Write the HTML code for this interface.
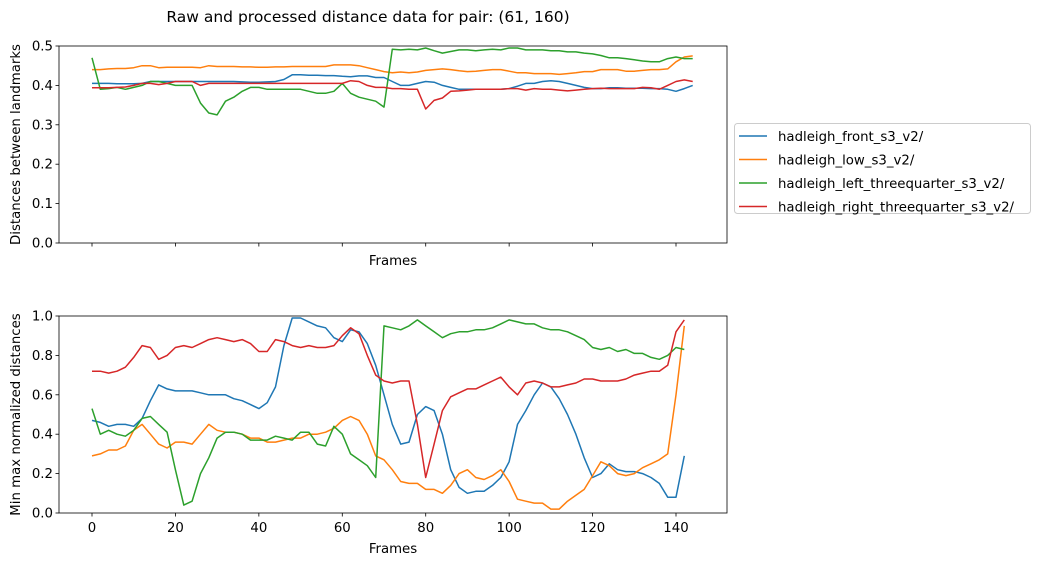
<!DOCTYPE html>
<html><head><meta charset="utf-8"><style>
body{margin:0;background:#fff;width:1040px;height:566px;overflow:hidden;font-family:"Liberation Sans","DejaVu Sans",sans-serif}
svg text{font-family:"DejaVu Sans","Liberation Sans",sans-serif;font-size:13.3px;fill:#000}
</style></head><body>
<svg id="chart" width="1040" height="566"></svg>
<script>
const topFront=[0.405,0.405,0.405,0.404,0.404,0.404,0.405,0.41,0.41,0.41,0.41,0.41,0.41,0.41,0.41,0.41,0.41,0.41,0.409,0.408,0.408,0.409,0.41,0.415,0.427,0.427,0.426,0.426,0.425,0.425,0.423,0.422,0.424,0.424,0.42,0.42,0.41,0.40,0.40,0.405,0.41,0.408,0.40,0.395,0.39,0.39,0.39,0.39,0.39,0.39,0.392,0.398,0.405,0.405,0.41,0.412,0.41,0.405,0.40,0.395,0.392,0.392,0.394,0.394,0.393,0.393,0.393,0.392,0.392,0.39,0.385,0.392,0.40];
const topLow=[0.44,0.44,0.442,0.443,0.443,0.445,0.45,0.45,0.445,0.446,0.446,0.446,0.446,0.445,0.45,0.448,0.448,0.448,0.447,0.447,0.446,0.446,0.447,0.447,0.448,0.448,0.448,0.448,0.448,0.452,0.452,0.452,0.45,0.445,0.44,0.435,0.432,0.434,0.432,0.434,0.438,0.44,0.442,0.44,0.437,0.435,0.436,0.438,0.44,0.44,0.436,0.432,0.432,0.43,0.43,0.43,0.428,0.43,0.432,0.435,0.435,0.44,0.44,0.44,0.436,0.436,0.438,0.44,0.44,0.442,0.46,0.472,0.475];
const topLeft=[0.47,0.39,0.392,0.395,0.39,0.395,0.40,0.41,0.41,0.405,0.40,0.40,0.40,0.355,0.33,0.325,0.36,0.37,0.385,0.395,0.395,0.39,0.39,0.39,0.39,0.39,0.385,0.38,0.38,0.385,0.405,0.38,0.37,0.365,0.36,0.345,0.492,0.49,0.492,0.49,0.495,0.488,0.482,0.486,0.49,0.49,0.488,0.49,0.492,0.49,0.495,0.495,0.49,0.49,0.49,0.488,0.488,0.485,0.485,0.482,0.48,0.476,0.47,0.47,0.468,0.465,0.462,0.46,0.46,0.468,0.472,0.468,0.468];
const topRight=[0.394,0.394,0.394,0.395,0.396,0.40,0.405,0.405,0.402,0.405,0.41,0.41,0.41,0.40,0.405,0.405,0.405,0.405,0.405,0.405,0.405,0.405,0.405,0.405,0.405,0.405,0.405,0.405,0.405,0.405,0.405,0.412,0.41,0.40,0.395,0.395,0.392,0.392,0.39,0.39,0.34,0.362,0.368,0.385,0.386,0.388,0.39,0.39,0.39,0.39,0.392,0.392,0.388,0.392,0.39,0.39,0.388,0.386,0.388,0.39,0.392,0.393,0.392,0.392,0.392,0.392,0.395,0.394,0.39,0.40,0.41,0.414,0.41];
const botFront=[0.47,0.46,0.44,0.45,0.45,0.44,0.48,0.57,0.65,0.63,0.62,0.62,0.62,0.61,0.60,0.60,0.60,0.58,0.57,0.55,0.53,0.56,0.64,0.85,0.99,0.99,0.97,0.95,0.94,0.89,0.87,0.93,0.92,0.86,0.75,0.60,0.45,0.35,0.36,0.50,0.54,0.52,0.40,0.22,0.13,0.10,0.11,0.11,0.14,0.18,0.26,0.45,0.52,0.60,0.66,0.64,0.58,0.50,0.40,0.28,0.18,0.20,0.25,0.22,0.21,0.21,0.20,0.18,0.15,0.08,0.08,0.29];
const botLow=[0.29,0.30,0.32,0.32,0.34,0.42,0.45,0.40,0.35,0.33,0.36,0.36,0.35,0.40,0.45,0.42,0.41,0.41,0.40,0.38,0.38,0.36,0.36,0.37,0.38,0.38,0.40,0.40,0.41,0.43,0.47,0.49,0.47,0.40,0.29,0.27,0.22,0.16,0.15,0.15,0.12,0.12,0.10,0.14,0.20,0.22,0.18,0.17,0.19,0.22,0.16,0.07,0.06,0.05,0.05,0.02,0.02,0.06,0.09,0.12,0.19,0.26,0.24,0.20,0.19,0.20,0.23,0.25,0.27,0.30,0.60,0.95];
const botLeft=[0.53,0.40,0.42,0.40,0.39,0.42,0.48,0.49,0.45,0.41,0.22,0.04,0.06,0.20,0.28,0.38,0.41,0.41,0.40,0.37,0.37,0.37,0.39,0.38,0.37,0.41,0.41,0.35,0.34,0.44,0.40,0.30,0.27,0.24,0.18,0.95,0.94,0.93,0.95,0.98,0.95,0.92,0.89,0.91,0.92,0.92,0.93,0.93,0.94,0.96,0.98,0.97,0.96,0.96,0.94,0.93,0.93,0.92,0.90,0.88,0.84,0.83,0.84,0.82,0.83,0.81,0.81,0.79,0.78,0.80,0.84,0.83];
const botRight=[0.72,0.72,0.71,0.72,0.74,0.79,0.85,0.84,0.78,0.80,0.84,0.85,0.84,0.86,0.88,0.89,0.88,0.87,0.88,0.86,0.82,0.82,0.88,0.87,0.85,0.84,0.85,0.84,0.84,0.85,0.90,0.94,0.91,0.80,0.70,0.67,0.66,0.67,0.67,0.45,0.18,0.35,0.52,0.59,0.61,0.63,0.63,0.65,0.67,0.69,0.64,0.60,0.66,0.67,0.66,0.64,0.64,0.65,0.66,0.68,0.68,0.67,0.67,0.67,0.68,0.70,0.71,0.72,0.72,0.75,0.92,0.98];
const seriesNames=["hadleigh_front_s3_v2/","hadleigh_low_s3_v2/","hadleigh_left_threequarter_s3_v2/","hadleigh_right_threequarter_s3_v2/"];
const colors=["#1f77b4","#ff7f0e","#2ca02c","#d62728"];
const xTicks=[0,20,40,60,80,100,120,140];
const topYTicks=[0,0.1,0.2,0.3,0.4,0.5];
const botYTicks=[0,0.2,0.4,0.6,0.8,1.0];
const frameStep=2;

const NS="http://www.w3.org/2000/svg";
const svg=document.getElementById('chart');
function mk(t,a,p){const e=document.createElementNS(NS,t);for(const k in a)e.setAttribute(k,a[k]);(p||svg).appendChild(e);return e;}
const L=59,R=727;
const xS=v=>92+(v)*(676-92)/140;
function panel(top,bottom,ymax,yticks,data,name,showXLabels,ylabel){
  const g=mk('g',{});
  
  
  const yS=v=>bottom-(v/ymax)*(bottom-top);
  const clip=mk('clipPath',{id:'c'+name},g);mk('rect',{x:L,y:top,width:R-L,height:bottom-top},clip);
  data.forEach((arr,i)=>{
    const pts=arr.map((v,j)=>xS(j*frameStep).toFixed(1)+','+yS(v).toFixed(1)).join(' ');
    const pl=mk('polyline',{points:pts,fill:'none',stroke:colors[i],'stroke-width':1.5,'clip-path':'url(#c'+name+')','stroke-linejoin':'round'},g);
    
    
  });
  mk('rect',{x:L,y:top,width:R-L,height:bottom-top,fill:'none',stroke:'#000','stroke-width':0.8},g);
  yticks.forEach(t=>{const y=yS(t);mk('line',{x1:L-3.5,x2:L,y1:y,y2:y,stroke:'#000','stroke-width':0.8},g);
    const tx=mk('text',{x:L-6,y:y+4.5,'text-anchor':'end'},g);tx.textContent=t.toFixed(1);
    
    });
  xticks_draw(g,bottom,showXLabels);
  const xl=mk('text',{x:393,y:bottom+(showXLabels?40:22),'text-anchor':'middle'},g);xl.textContent='Frames';
  
  
  const yl=mk('text',{x:0,y:0,'text-anchor':'middle',transform:`translate(20,${(top+bottom)/2}) rotate(-90)`},g);yl.textContent=ylabel;
  
  
}
function xticks_draw(g,bottom,lab){xTicks.forEach(t=>{const x=xS(t);mk('line',{x1:x,x2:x,y1:bottom,y2:bottom+3.5,stroke:'#000','stroke-width':0.8},g);
  if(lab){const tx=mk('text',{x:x,y:bottom+19,'text-anchor':'middle'},g);tx.textContent=t;
  
  }});}
panel(46,243,0.5,topYTicks,[topFront,topLow,topLeft,topRight],'top-panel',false,'Distances between landmarks');
panel(316,513,1.0,botYTicks,[botFront,botLow,botLeft,botRight],'bottom-panel',true,'Min max normalized distances');
const title=mk('text',{x:368,y:22,'text-anchor':'middle',style:'font-size:15.5px'});title.textContent='Raw and processed distance data for pair: (61, 160)';


const lg=mk('g',{});


mk('rect',{x:734.5,y:123.5,width:296,height:90,rx:3,fill:'#fff',stroke:'#ccc'},lg);
seriesNames.forEach((n,i)=>{const y=131+i*23.5+5;
  const ln=mk('line',{x1:739,x2:767,y1:y,y2:y,stroke:colors[i],'stroke-width':1.5},lg);
  
  
  const t=mk('text',{x:778,y:y+5},lg);t.textContent=n;
  
  });
</script>
</body></html>
